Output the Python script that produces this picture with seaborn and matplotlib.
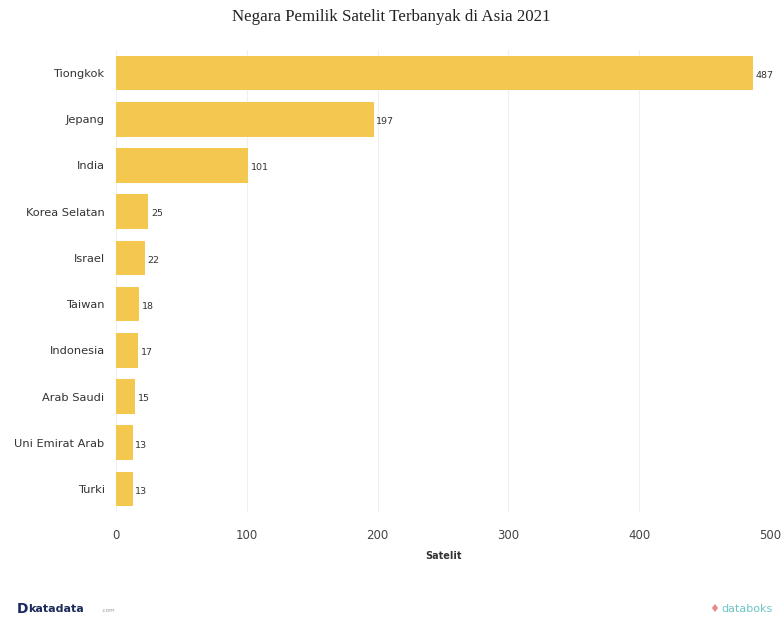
import matplotlib
matplotlib.use("Agg")
import matplotlib.pyplot as plt
import seaborn as sns
import pandas as pd

countries = ["Tiongkok", "Jepang", "India", "Korea Selatan", "Israel", "Taiwan",
             "Indonesia", "Arab Saudi", "Uni Emirat Arab", "Turki"]
satellites = [487, 197, 101, 25, 22, 18, 17, 15, 13, 13]
xticks = [0, 100, 200, 300, 400, 500]

df = pd.DataFrame({"Negara": countries, "Satelit": satellites})

sns.set_theme(style="white")
plt.rcParams['font.family'] = ['DejaVu Sans']

fig = plt.figure(figsize=(7.82, 6.23), dpi=100)
ax = fig.add_axes([0.148, 0.178, 0.837, 0.742])

sns.barplot(data=df, x="Satelit", y="Negara", color="#F4C84E", width=0.75,
            saturation=1, ax=ax, orient="h", linewidth=0)

ax.set_xlim(0, 500)
ax.set_ylim(9.5, -0.5)
ax.set_xticks(xticks)
ax.set_xticklabels([str(t) for t in xticks], fontsize=8.5, color="#444444")
ax.tick_params(axis="y", labelsize=8.2, labelcolor="#333333", length=0, pad=8)
ax.tick_params(axis="x", length=0, pad=12)
ax.xaxis.grid(True, color="#f0f0f0", linewidth=0.8)
ax.set_axisbelow(True)
for s in ax.spines.values():
    s.set_visible(False)
ax.set_ylabel("")
ax.set_xlabel("Satelit", fontsize=7, fontweight="bold", color="#333333", labelpad=7)

for i, v in enumerate(satellites):
    ax.text(v + 2, i + 0.05, str(v), va="center", ha="left", fontsize=6.8, color="#333333")

fig.text(0.5, 0.972, "Negara Pemilik Satelit Terbanyak di Asia 2021",
         ha="center", va="center", fontsize=12.2, family="Liberation Serif", color="#222222")

fig.text(0.022, 0.022, "D", ha="left", va="center", fontsize=10, fontweight="bold", color="#1d2b5a")
fig.text(0.036, 0.022, "katadata", ha="left", va="center", fontsize=8, fontweight="bold", color="#1d2b5a")
fig.text(0.04 + 0.09, 0.020, ".com", ha="left", va="center", fontsize=4, color="#999999")
fig.text(0.913, 0.022, "♦", ha="center", va="center", fontsize=8, color="#e98a8a")
fig.text(0.922, 0.022, "databoks", ha="left", va="center", fontsize=8, color="#6cc6c6")

fig.savefig("out.png", dpi=100)
